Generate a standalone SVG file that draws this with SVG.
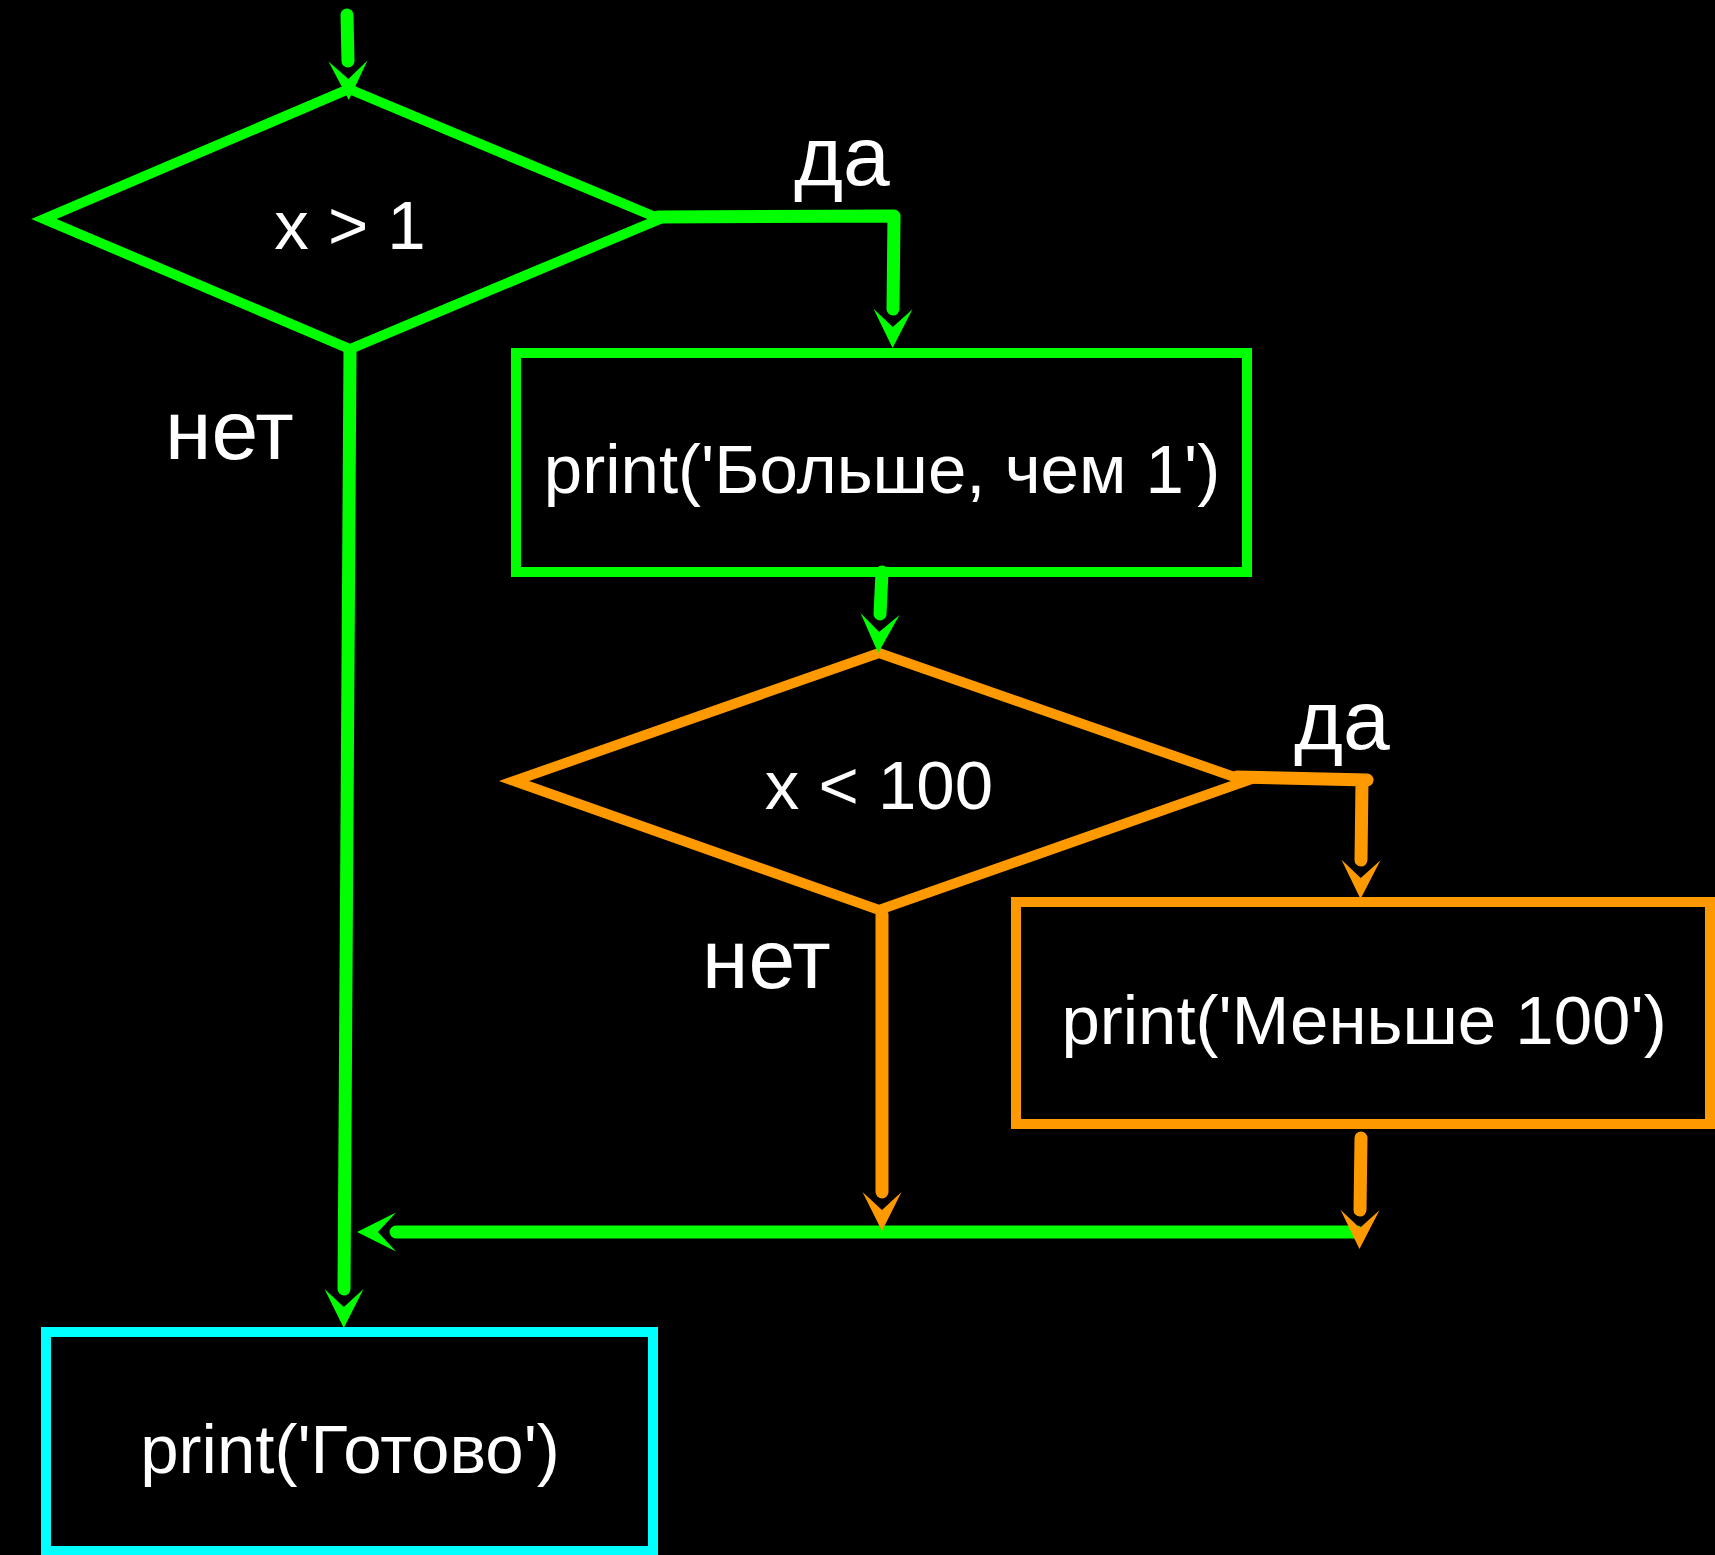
<svg xmlns="http://www.w3.org/2000/svg" width="1715" height="1555" viewBox="0 0 1715 1555">
  <style>
    .bg { fill: #000000; }
    .shape { fill: none; stroke-width: 10; stroke-linejoin: miter; stroke-miterlimit: 10; }
    .green { stroke: #00ff00; }
    .orange { stroke: #ff9900; }
    .cyan { stroke: #00ffff; }
    .label { font-family: "Liberation Sans", Arial, sans-serif; fill: #ffffff; }
    .node-text { font-size: 69px; text-anchor: middle; }
    .branch { font-size: 84px; }
    .wire { fill: none; stroke-width: 13; stroke-linecap: round; stroke-linejoin: round; }
  </style>
  <defs>
    <marker id="arrow-green" markerUnits="userSpaceOnUse" orient="auto" refX="0" refY="0" markerWidth="40" markerHeight="40" overflow="visible">
      <path d="M0,-19.5 L39,0 L0,19.5 L18,0 Z" fill="#00ff00"/>
    </marker>
    <marker id="arrow-orange" markerUnits="userSpaceOnUse" orient="auto" refX="0" refY="0" markerWidth="40" markerHeight="40" overflow="visible">
      <path d="M0,-19.5 L39,0 L0,19.5 L18,0 Z" fill="#ff9900"/>
    </marker>
  </defs>

  <rect class="bg" x="0" y="0" width="1715" height="1555"/>

  <!-- decision: x > 1 -->
  <g id="cond-gt-1">
    <polygon class="shape green" points="349,89 660,219 350,349 44,219"/>
    <text class="label node-text" x="350" y="249">x &gt; 1</text>
  </g>

  <!-- process: greater than 1 -->
  <g id="print-gt-1">
    <rect class="shape green" x="516" y="353" width="731" height="219"/>
    <text class="label node-text" x="882" y="493">print('Больше, чем 1')</text>
  </g>

  <!-- decision: x < 100 -->
  <g id="cond-lt-100">
    <polygon class="shape orange" points="879,653 1246,781 879,910 514,781"/>
    <text class="label node-text" x="879" y="809">x &lt; 100</text>
  </g>

  <!-- process: less than 100 -->
  <g id="print-lt-100">
    <rect class="shape orange" x="1016" y="902" width="694" height="222"/>
    <text class="label node-text" x="1364" y="1044">print('Меньше 100')</text>
  </g>

  <!-- process: done -->
  <g id="print-done">
    <rect class="shape cyan" x="46" y="1332" width="607" height="219"/>
    <text class="label node-text" x="350" y="1473">print('Готово')</text>
  </g>

  <!-- branch labels -->
  <g id="branch-labels">
    <text class="label branch" x="794" y="185">да</text>
    <text class="label branch" x="165" y="459">нет</text>
    <text class="label branch" x="1294" y="749">да</text>
    <text class="label branch" x="702" y="988">нет</text>
  </g>

  <!-- connectors -->
  <g id="connectors">
    <path class="wire green" d="M347,15 L348,61" marker-end="url(#arrow-green)"/>
    <path class="wire green" d="M658,217 L894,216 L893,309" marker-end="url(#arrow-green)"/>
    <path class="wire green" d="M350,352 L344,1289" marker-end="url(#arrow-green)"/>
    <path class="wire green" d="M882,572 L880,614" marker-end="url(#arrow-green)"/>
    <path class="wire green" d="M1357,1232 L396,1232" marker-end="url(#arrow-green)"/>
    <path class="wire orange" d="M1237,777 L1367,780"/>
    <path class="wire orange" d="M1362,781 L1361,860" marker-end="url(#arrow-orange)"/>
    <path class="wire orange" d="M882,915 L882,1192" marker-end="url(#arrow-orange)"/>
    <path class="wire orange" d="M1361,1138 L1360,1210" marker-end="url(#arrow-orange)"/>
  </g>
</svg>
